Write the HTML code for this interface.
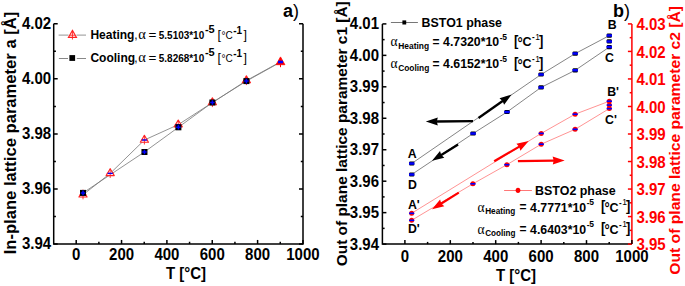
<!DOCTYPE html>
<html><head><meta charset="utf-8"><style>
html,body{margin:0;padding:0;background:#fff;}
svg{display:block;font-family:"Liberation Sans", sans-serif;}
</style></head><body>
<svg width="685" height="286" viewBox="0 0 685 286">
<rect x="0" y="0" width="685" height="286" fill="#fff"/>
<path d="M53.7 23.85 V243.95 H303.0 V23.85" fill="none" stroke="#000" stroke-width="1.5"/>
<path d="M53.7 243.95 h4 M303.0 243.95 h-4" stroke="#000" stroke-width="1.5"/>
<path d="M53.7 216.44 h2.2 M303.0 216.44 h-2.2" stroke="#000" stroke-width="1.5"/>
<path d="M53.7 188.92 h4 M303.0 188.92 h-4" stroke="#000" stroke-width="1.5"/>
<path d="M53.7 161.41 h2.2 M303.0 161.41 h-2.2" stroke="#000" stroke-width="1.5"/>
<path d="M53.7 133.90 h4 M303.0 133.90 h-4" stroke="#000" stroke-width="1.5"/>
<path d="M53.7 106.39 h2.2 M303.0 106.39 h-2.2" stroke="#000" stroke-width="1.5"/>
<path d="M53.7 78.87 h4 M303.0 78.87 h-4" stroke="#000" stroke-width="1.5"/>
<path d="M53.7 51.36 h2.2 M303.0 51.36 h-2.2" stroke="#000" stroke-width="1.5"/>
<path d="M53.7 23.85 h4 M303.0 23.85 h-4" stroke="#000" stroke-width="1.5"/>
<path d="M76.20 243.95 v-4" stroke="#000" stroke-width="1.5"/>
<path d="M98.88 243.95 v-2.2" stroke="#000" stroke-width="1.5"/>
<path d="M121.55 243.95 v-4" stroke="#000" stroke-width="1.5"/>
<path d="M144.23 243.95 v-2.2" stroke="#000" stroke-width="1.5"/>
<path d="M166.90 243.95 v-4" stroke="#000" stroke-width="1.5"/>
<path d="M189.57 243.95 v-2.2" stroke="#000" stroke-width="1.5"/>
<path d="M212.25 243.95 v-4" stroke="#000" stroke-width="1.5"/>
<path d="M234.93 243.95 v-2.2" stroke="#000" stroke-width="1.5"/>
<path d="M257.60 243.95 v-4" stroke="#000" stroke-width="1.5"/>
<path d="M280.28 243.95 v-2.2" stroke="#000" stroke-width="1.5"/>
<path d="M302.95 243.95 v-4" stroke="#000" stroke-width="1.5"/>
<path d="M382.4 23.9 V244.1 H631.9" fill="none" stroke="#000" stroke-width="1.5"/>
<path d="M631.9 23.9 V244.1" fill="none" stroke="#f00" stroke-width="1.5"/>
<path d="M382.4 244.10 h4" stroke="#000" stroke-width="1.5"/>
<path d="M382.4 228.37 h2.2" stroke="#000" stroke-width="1.5"/>
<path d="M382.4 212.64 h4" stroke="#000" stroke-width="1.5"/>
<path d="M382.4 196.91 h2.2" stroke="#000" stroke-width="1.5"/>
<path d="M382.4 181.19 h4" stroke="#000" stroke-width="1.5"/>
<path d="M382.4 165.46 h2.2" stroke="#000" stroke-width="1.5"/>
<path d="M382.4 149.73 h4" stroke="#000" stroke-width="1.5"/>
<path d="M382.4 134.00 h2.2" stroke="#000" stroke-width="1.5"/>
<path d="M382.4 118.27 h4" stroke="#000" stroke-width="1.5"/>
<path d="M382.4 102.54 h2.2" stroke="#000" stroke-width="1.5"/>
<path d="M382.4 86.81 h4" stroke="#000" stroke-width="1.5"/>
<path d="M382.4 71.09 h2.2" stroke="#000" stroke-width="1.5"/>
<path d="M382.4 55.36 h4" stroke="#000" stroke-width="1.5"/>
<path d="M382.4 39.63 h2.2" stroke="#000" stroke-width="1.5"/>
<path d="M382.4 23.90 h4" stroke="#000" stroke-width="1.5"/>
<path d="M631.9 244.10 h-4" stroke="#f00" stroke-width="1.5"/>
<path d="M631.9 230.34 h-2.2" stroke="#f00" stroke-width="1.5"/>
<path d="M631.9 216.58 h-4" stroke="#f00" stroke-width="1.5"/>
<path d="M631.9 202.81 h-2.2" stroke="#f00" stroke-width="1.5"/>
<path d="M631.9 189.05 h-4" stroke="#f00" stroke-width="1.5"/>
<path d="M631.9 175.29 h-2.2" stroke="#f00" stroke-width="1.5"/>
<path d="M631.9 161.53 h-4" stroke="#f00" stroke-width="1.5"/>
<path d="M631.9 147.76 h-2.2" stroke="#f00" stroke-width="1.5"/>
<path d="M631.9 134.00 h-4" stroke="#f00" stroke-width="1.5"/>
<path d="M631.9 120.24 h-2.2" stroke="#f00" stroke-width="1.5"/>
<path d="M631.9 106.48 h-4" stroke="#f00" stroke-width="1.5"/>
<path d="M631.9 92.71 h-2.2" stroke="#f00" stroke-width="1.5"/>
<path d="M631.9 78.95 h-4" stroke="#f00" stroke-width="1.5"/>
<path d="M631.9 65.19 h-2.2" stroke="#f00" stroke-width="1.5"/>
<path d="M631.9 51.42 h-4" stroke="#f00" stroke-width="1.5"/>
<path d="M631.9 37.66 h-2.2" stroke="#f00" stroke-width="1.5"/>
<path d="M631.9 23.90 h-4" stroke="#f00" stroke-width="1.5"/>
<path d="M404.90 244.1 v-4" stroke="#000" stroke-width="1.5"/>
<path d="M427.60 244.1 v-2.2" stroke="#000" stroke-width="1.5"/>
<path d="M450.30 244.1 v-4" stroke="#000" stroke-width="1.5"/>
<path d="M473.00 244.1 v-2.2" stroke="#000" stroke-width="1.5"/>
<path d="M495.70 244.1 v-4" stroke="#000" stroke-width="1.5"/>
<path d="M518.40 244.1 v-2.2" stroke="#000" stroke-width="1.5"/>
<path d="M541.10 244.1 v-4" stroke="#000" stroke-width="1.5"/>
<path d="M563.80 244.1 v-2.2" stroke="#000" stroke-width="1.5"/>
<path d="M586.50 244.1 v-4" stroke="#000" stroke-width="1.5"/>
<path d="M609.20 244.1 v-2.2" stroke="#000" stroke-width="1.5"/>
<path d="M631.90 244.1 v-4" stroke="#000" stroke-width="1.5"/>
<text transform="translate(51.20 248.95) scale(1 1.14)" font-size="15" font-weight="bold" text-anchor="end" fill="#000" >3.94</text>
<text transform="translate(51.20 193.92) scale(1 1.14)" font-size="15" font-weight="bold" text-anchor="end" fill="#000" >3.96</text>
<text transform="translate(51.20 138.90) scale(1 1.14)" font-size="15" font-weight="bold" text-anchor="end" fill="#000" >3.98</text>
<text transform="translate(51.20 83.87) scale(1 1.14)" font-size="15" font-weight="bold" text-anchor="end" fill="#000" >4.00</text>
<text transform="translate(51.20 28.85) scale(1 1.14)" font-size="15" font-weight="bold" text-anchor="end" fill="#000" >4.02</text>
<text transform="translate(76.20 260.10) scale(1 1.14)" font-size="15" font-weight="bold" text-anchor="middle" fill="#000" >0</text>
<text transform="translate(121.55 260.10) scale(1 1.14)" font-size="15" font-weight="bold" text-anchor="middle" fill="#000" >200</text>
<text transform="translate(166.90 260.10) scale(1 1.14)" font-size="15" font-weight="bold" text-anchor="middle" fill="#000" >400</text>
<text transform="translate(212.25 260.10) scale(1 1.14)" font-size="15" font-weight="bold" text-anchor="middle" fill="#000" >600</text>
<text transform="translate(257.60 260.10) scale(1 1.14)" font-size="15" font-weight="bold" text-anchor="middle" fill="#000" >800</text>
<text transform="translate(302.95 260.10) scale(1 1.14)" font-size="15" font-weight="bold" text-anchor="middle" fill="#000" >1000</text>
<text transform="translate(379.00 249.50) scale(1 1.14)" font-size="15" font-weight="bold" text-anchor="end" fill="#000" >3.94</text>
<text transform="translate(379.00 218.04) scale(1 1.14)" font-size="15" font-weight="bold" text-anchor="end" fill="#000" >3.95</text>
<text transform="translate(379.00 186.59) scale(1 1.14)" font-size="15" font-weight="bold" text-anchor="end" fill="#000" >3.96</text>
<text transform="translate(379.00 155.13) scale(1 1.14)" font-size="15" font-weight="bold" text-anchor="end" fill="#000" >3.97</text>
<text transform="translate(379.00 123.67) scale(1 1.14)" font-size="15" font-weight="bold" text-anchor="end" fill="#000" >3.98</text>
<text transform="translate(379.00 92.21) scale(1 1.14)" font-size="15" font-weight="bold" text-anchor="end" fill="#000" >3.99</text>
<text transform="translate(379.00 60.76) scale(1 1.14)" font-size="15" font-weight="bold" text-anchor="end" fill="#000" >4.00</text>
<text transform="translate(379.00 29.30) scale(1 1.14)" font-size="15" font-weight="bold" text-anchor="end" fill="#000" >4.01</text>
<text transform="translate(636.50 250.40) scale(1 1.14)" font-size="15" font-weight="bold" text-anchor="start" fill="#f00" >3.95</text>
<text transform="translate(636.50 222.88) scale(1 1.14)" font-size="15" font-weight="bold" text-anchor="start" fill="#f00" >3.96</text>
<text transform="translate(636.50 195.35) scale(1 1.14)" font-size="15" font-weight="bold" text-anchor="start" fill="#f00" >3.97</text>
<text transform="translate(636.50 167.83) scale(1 1.14)" font-size="15" font-weight="bold" text-anchor="start" fill="#f00" >3.98</text>
<text transform="translate(636.50 140.30) scale(1 1.14)" font-size="15" font-weight="bold" text-anchor="start" fill="#f00" >3.99</text>
<text transform="translate(636.50 112.78) scale(1 1.14)" font-size="15" font-weight="bold" text-anchor="start" fill="#f00" >4.00</text>
<text transform="translate(636.50 85.25) scale(1 1.14)" font-size="15" font-weight="bold" text-anchor="start" fill="#f00" >4.01</text>
<text transform="translate(636.50 57.72) scale(1 1.14)" font-size="15" font-weight="bold" text-anchor="start" fill="#f00" >4.02</text>
<text transform="translate(636.50 30.20) scale(1 1.14)" font-size="15" font-weight="bold" text-anchor="start" fill="#f00" >4.03</text>
<text transform="translate(404.90 261.90) scale(1 1.14)" font-size="15" font-weight="bold" text-anchor="middle" fill="#000" >0</text>
<text transform="translate(450.30 261.90) scale(1 1.14)" font-size="15" font-weight="bold" text-anchor="middle" fill="#000" >200</text>
<text transform="translate(495.70 261.90) scale(1 1.14)" font-size="15" font-weight="bold" text-anchor="middle" fill="#000" >400</text>
<text transform="translate(541.10 261.90) scale(1 1.14)" font-size="15" font-weight="bold" text-anchor="middle" fill="#000" >600</text>
<text transform="translate(586.50 261.90) scale(1 1.14)" font-size="15" font-weight="bold" text-anchor="middle" fill="#000" >800</text>
<text transform="translate(631.90 261.90) scale(1 1.14)" font-size="15" font-weight="bold" text-anchor="middle" fill="#000" >1000</text>
<text transform="translate(186.00 279.10) scale(1 1.14)" font-size="15" font-weight="bold" text-anchor="middle" fill="#000" >T [°C]</text>
<text transform="translate(516.00 280.50) scale(1 1.14)" font-size="15" font-weight="bold" text-anchor="middle" fill="#000" >T [°C]</text>
<text transform="translate(15.6 254.3) rotate(-90)" font-size="16" font-weight="bold" textLength="242.6" lengthAdjust="spacingAndGlyphs">In-plane lattice parameter a [Å]</text>
<text transform="translate(347 266.3) rotate(-90)" font-size="15" font-weight="bold" textLength="265" lengthAdjust="spacingAndGlyphs">Out of plane lattice parameter c1 [Å]</text>
<text transform="translate(679.9 274.7) rotate(-90)" font-size="15" font-weight="bold" textLength="268.8" lengthAdjust="spacingAndGlyphs" fill="#f00">Out of plane lattice parameter c2 [Å]</text>
<text x="283" y="16.8" font-size="18"><tspan font-weight="bold">a</tspan>)</text>
<text x="613" y="17.4" font-size="18"><tspan font-weight="bold">b</tspan>)</text>
<path d="M83.0 194.8 L110.2 173.4 L144.4 140.0 L178.2 124.7 L212.4 102.6 L246.4 80.6 L280.5 61.8" fill="none" stroke="#777" stroke-width="0.8"/>
<path d="M83.0 192.9 L144.4 152.0 L178.4 127.3 L212.4 102.5 L246.4 81.1 L280.5 62.2" fill="none" stroke="#777" stroke-width="0.8"/>
<path d="M83.00 190.10 L87.10 197.00 L78.90 197.00 Z" fill="#fff" stroke="#f22" stroke-width="1.1" stroke-linejoin="round"/>
<path d="M83.00 190.10 V199.30 M79.60 194.80 H86.40" stroke="#f22" stroke-width="0.9"/>
<path d="M80.50 194.80 H85.50" stroke="#00f" stroke-width="1.4"/>
<path d="M110.20 168.70 L114.30 175.60 L106.10 175.60 Z" fill="#fff" stroke="#f22" stroke-width="1.1" stroke-linejoin="round"/>
<path d="M110.20 168.70 V177.90 M106.80 173.40 H113.60" stroke="#f22" stroke-width="0.9"/>
<path d="M107.70 173.40 H112.70" stroke="#00f" stroke-width="1.4"/>
<path d="M144.40 135.30 L148.50 142.20 L140.30 142.20 Z" fill="#fff" stroke="#f22" stroke-width="1.1" stroke-linejoin="round"/>
<path d="M144.40 135.30 V144.50 M141.00 140.00 H147.80" stroke="#f22" stroke-width="0.9"/>
<path d="M141.90 140.00 H146.90" stroke="#00f" stroke-width="1.4"/>
<path d="M178.25 120.00 L182.35 126.90 L174.15 126.90 Z" fill="#fff" stroke="#f22" stroke-width="1.1" stroke-linejoin="round"/>
<path d="M178.25 120.00 V129.20 M174.85 124.70 H181.65" stroke="#f22" stroke-width="0.9"/>
<path d="M175.75 124.70 H180.75" stroke="#00f" stroke-width="1.4"/>
<path d="M212.40 97.90 L216.50 104.80 L208.30 104.80 Z" fill="#fff" stroke="#f22" stroke-width="1.1" stroke-linejoin="round"/>
<path d="M212.40 97.90 V107.10 M209.00 102.60 H215.80" stroke="#f22" stroke-width="0.9"/>
<path d="M209.90 102.60 H214.90" stroke="#00f" stroke-width="1.4"/>
<path d="M246.40 75.90 L250.50 82.80 L242.30 82.80 Z" fill="#fff" stroke="#f22" stroke-width="1.1" stroke-linejoin="round"/>
<path d="M246.40 75.90 V85.10 M243.00 80.60 H249.80" stroke="#f22" stroke-width="0.9"/>
<path d="M243.90 80.60 H248.90" stroke="#00f" stroke-width="1.4"/>
<rect x="80.00" y="189.90" width="6.00" height="6.00" fill="#000"/>
<path d="M80.80 192.90 H85.20 M83.00 190.60 V195.20" stroke="#00f" stroke-width="1.5"/>
<rect x="141.45" y="149.00" width="6.00" height="6.00" fill="#000"/>
<path d="M142.25 152.00 H146.65 M144.45 149.70 V154.30" stroke="#00f" stroke-width="1.5"/>
<rect x="175.40" y="124.30" width="6.00" height="6.00" fill="#000"/>
<path d="M176.20 127.30 H180.60 M178.40 125.00 V129.60" stroke="#00f" stroke-width="1.5"/>
<rect x="209.40" y="99.50" width="6.00" height="6.00" fill="#000"/>
<path d="M210.20 102.50 H214.60 M212.40 100.20 V104.80" stroke="#00f" stroke-width="1.5"/>
<rect x="243.40" y="78.10" width="6.00" height="6.00" fill="#000"/>
<path d="M244.20 81.10 H248.60 M246.40 78.80 V83.40" stroke="#00f" stroke-width="1.5"/>
<path d="M280.50 56.90 L284.90 64.70 L276.10 64.70 Z" fill="#f00" stroke="#f00" stroke-width="0.8" stroke-linejoin="round"/>
<path d="M280.50 62.00 V67.20" stroke="#f00" stroke-width="1"/>
<rect x="278.00" y="60.70" width="5" height="2.6" fill="#00f"/>
<path d="M58.6 35.1 H68.5 M76.5 35.1 H86" stroke="#aaa" stroke-width="1.4"/>
<path d="M58.9 58.5 H68 M76.8 58.5 H86" stroke="#888" stroke-width="1"/>
<path d="M72.45 30.4 L76.5 37.4 L68.4 37.4 Z" fill="#fff" stroke="#f22" stroke-width="1.1"/>
<path d="M72.45 30.4 V39.5 M70 35.2 H75" stroke="#f22" stroke-width="0.9"/>
<rect x="69.4" y="55.1" width="5.7" height="5.8" fill="#000"/>
<text x="90.4" y="38.8" font-size="12" font-weight="bold">Heating</text>
<text x="134.3" y="38.8" font-size="12">,</text>
<text x="138.3" y="39.1" font-size="14.5" font-family="Liberation Serif">α</text>
<text x="148.4" y="39.1" font-size="13.5">=</text>
<text x="158.8" y="39.3" font-size="10.3" font-weight="bold" textLength="45.4" lengthAdjust="spacingAndGlyphs">5.5103*10</text>
<text x="204.9" y="33.0" font-size="11" font-weight="bold">-5</text>
<text x="217.6" y="38.8" font-size="12.5">[</text>
<text x="221.6" y="38.8" font-size="10">°</text>
<text x="225.6" y="38.8" font-size="10">C</text>
<text x="233.2" y="33.9" font-size="10" font-weight="bold">-1</text>
<text x="243.5" y="38.8" font-size="12.5">]</text>
<text x="90.4" y="61.9" font-size="12" font-weight="bold">Cooling</text>
<text x="134.3" y="61.9" font-size="12">,</text>
<text x="138.3" y="62.2" font-size="14.5" font-family="Liberation Serif">α</text>
<text x="148.4" y="62.2" font-size="13.5">=</text>
<text x="158.8" y="62.4" font-size="10.3" font-weight="bold" textLength="45.4" lengthAdjust="spacingAndGlyphs">5.8268*10</text>
<text x="204.9" y="56.1" font-size="11" font-weight="bold">-5</text>
<text x="217.6" y="61.9" font-size="12.5">[</text>
<text x="221.6" y="61.9" font-size="10">°</text>
<text x="225.6" y="61.9" font-size="10">C</text>
<text x="233.2" y="57.0" font-size="10" font-weight="bold">-1</text>
<text x="243.5" y="61.9" font-size="12.5">]</text>
<path d="M411.7 163.5 L541.1 74.5 L575.2 53.6 L609.3 35.6" fill="none" stroke="#666" stroke-width="0.8"/>
<path d="M411.7 174.5 L473.1 133.5 L507.0 112.0 L541.1 87.4 L575.2 70.3 L609.3 47.1" fill="none" stroke="#666" stroke-width="0.8"/>
<path d="M411.6 213.3 L541.2 133.4 L575.1 114.2 L609.3 101.2" fill="none" stroke="#f77" stroke-width="0.8"/>
<path d="M411.6 220.3 L472.9 183.8 L506.9 164.7 L541.2 144.2 L575.1 129.3 L609.3 108.6" fill="none" stroke="#f77" stroke-width="0.8"/>
<rect x="409.10" y="161.40" width="5.2" height="4.2" rx="1.0" fill="#000"/>
<rect x="409.00" y="162.25" width="5.4" height="2.5" rx="0.5" fill="#00f"/>
<rect x="538.50" y="72.40" width="5.2" height="4.2" rx="1.0" fill="#000"/>
<rect x="538.40" y="73.25" width="5.4" height="2.5" rx="0.5" fill="#00f"/>
<rect x="572.60" y="51.50" width="5.2" height="4.2" rx="1.0" fill="#000"/>
<rect x="572.50" y="52.35" width="5.4" height="2.5" rx="0.5" fill="#00f"/>
<rect x="606.70" y="33.50" width="5.2" height="4.2" rx="1.0" fill="#000"/>
<rect x="606.60" y="34.35" width="5.4" height="2.5" rx="0.5" fill="#00f"/>
<rect x="409.10" y="172.40" width="5.2" height="4.2" rx="1.0" fill="#000"/>
<rect x="409.00" y="173.25" width="5.4" height="2.5" rx="0.5" fill="#00f"/>
<rect x="470.50" y="131.40" width="5.2" height="4.2" rx="1.0" fill="#000"/>
<rect x="470.40" y="132.25" width="5.4" height="2.5" rx="0.5" fill="#00f"/>
<rect x="504.40" y="109.90" width="5.2" height="4.2" rx="1.0" fill="#000"/>
<rect x="504.30" y="110.75" width="5.4" height="2.5" rx="0.5" fill="#00f"/>
<rect x="538.50" y="85.30" width="5.2" height="4.2" rx="1.0" fill="#000"/>
<rect x="538.40" y="86.15" width="5.4" height="2.5" rx="0.5" fill="#00f"/>
<rect x="572.60" y="68.20" width="5.2" height="4.2" rx="1.0" fill="#000"/>
<rect x="572.50" y="69.05" width="5.4" height="2.5" rx="0.5" fill="#00f"/>
<rect x="606.70" y="45.00" width="5.2" height="4.2" rx="1.0" fill="#000"/>
<rect x="606.60" y="45.85" width="5.4" height="2.5" rx="0.5" fill="#00f"/>
<rect x="606.70" y="39.30" width="5.2" height="4.2" rx="1.0" fill="#000"/>
<rect x="606.60" y="40.15" width="5.4" height="2.5" rx="0.5" fill="#00f"/>
<circle cx="411.65" cy="213.30" r="2.5" fill="#f00"/>
<rect x="409.05" y="212.50" width="5.2" height="1.6" fill="#00f"/>
<circle cx="541.20" cy="133.40" r="2.5" fill="#f00"/>
<rect x="538.60" y="132.60" width="5.2" height="1.6" fill="#00f"/>
<circle cx="575.10" cy="114.20" r="2.5" fill="#f00"/>
<rect x="572.50" y="113.40" width="5.2" height="1.6" fill="#00f"/>
<circle cx="609.30" cy="101.20" r="2.5" fill="#f00"/>
<rect x="606.70" y="100.40" width="5.2" height="1.6" fill="#00f"/>
<circle cx="411.65" cy="220.30" r="2.5" fill="#f00"/>
<rect x="409.05" y="219.50" width="5.2" height="1.6" fill="#00f"/>
<circle cx="472.90" cy="183.80" r="2.5" fill="#f00"/>
<rect x="470.30" y="183.00" width="5.2" height="1.6" fill="#00f"/>
<circle cx="506.90" cy="164.70" r="2.5" fill="#f00"/>
<rect x="504.30" y="163.90" width="5.2" height="1.6" fill="#00f"/>
<circle cx="541.20" cy="144.20" r="2.5" fill="#f00"/>
<rect x="538.60" y="143.40" width="5.2" height="1.6" fill="#00f"/>
<circle cx="575.10" cy="129.30" r="2.5" fill="#f00"/>
<rect x="572.50" y="128.50" width="5.2" height="1.6" fill="#00f"/>
<circle cx="609.30" cy="108.60" r="2.5" fill="#f00"/>
<rect x="606.70" y="107.80" width="5.2" height="1.6" fill="#00f"/>
<circle cx="609.30" cy="105.10" r="2.5" fill="#f00"/>
<rect x="606.70" y="104.30" width="5.2" height="1.6" fill="#00f"/>
<text x="412.30" y="157.90" font-size="12.3" font-weight="bold" text-anchor="middle" fill="#000" >A</text>
<text x="412.40" y="189.30" font-size="12.3" font-weight="bold" text-anchor="middle" fill="#000" >D</text>
<text x="612.10" y="29.20" font-size="12.3" font-weight="bold" text-anchor="middle" fill="#000" >B</text>
<text x="609.50" y="61.80" font-size="12.3" font-weight="bold" text-anchor="middle" fill="#000" >C</text>
<text x="413.90" y="208.50" font-size="12.3" font-weight="bold" text-anchor="middle" fill="#000" >A'</text>
<text x="413.90" y="232.60" font-size="12.3" font-weight="bold" text-anchor="middle" fill="#000" >D'</text>
<text x="613.10" y="95.50" font-size="12.3" font-weight="bold" text-anchor="middle" fill="#000" >B'</text>
<text x="611.00" y="123.80" font-size="12.3" font-weight="bold" text-anchor="middle" fill="#000" >C'</text>
<path d="M390.9 22.5 H417.9" stroke="#777" stroke-width="1"/>
<rect x="402.4" y="20.4" width="3.8" height="4.1" fill="#000"/>
<text x="421.6" y="26.8" font-size="12.6" font-weight="bold" textLength="80.4" lengthAdjust="spacingAndGlyphs">BSTO1 phase</text>
<g transform="translate(0 46.4) scale(1 1.07)">
<text x="390.5" y="0" font-size="13.5" font-family="Liberation Serif">α</text>
<text x="398.2" y="2.15" font-size="8.6" font-weight="bold" textLength="30.9" lengthAdjust="spacingAndGlyphs">Heating</text>
<text x="432.5" y="-0.65" font-size="12" font-weight="bold">=</text>
<text x="443.1" y="0" font-size="12" font-weight="bold" textLength="56.1" lengthAdjust="spacingAndGlyphs">4.7320*10</text>
<text x="499.8" y="-5.33" font-size="8" font-weight="bold">-</text>
<text x="502.2" y="-6.36" font-size="8.5" font-weight="bold">5</text>
<text x="513.9" y="-0.75" font-size="13" font-weight="bold">[</text>
<text x="517.6" y="1.4" font-size="13" font-weight="bold">°</text>
<text x="522.6" y="0" font-size="12.5" font-weight="bold">C</text>
<text x="532.1" y="-5.70" font-size="8" font-weight="bold">-</text>
<text x="535.3" y="-5.98" font-size="8.5">1</text>
<text x="539.0" y="-0.75" font-size="13" font-weight="bold">]</text>
</g>
<g transform="translate(0 68.4) scale(1 1.07)">
<text x="390.5" y="0" font-size="13.5" font-family="Liberation Serif">α</text>
<text x="398.2" y="2.15" font-size="8.6" font-weight="bold" textLength="31.1" lengthAdjust="spacingAndGlyphs">Cooling</text>
<text x="432.5" y="-0.65" font-size="12" font-weight="bold">=</text>
<text x="443.1" y="0" font-size="12" font-weight="bold" textLength="56.1" lengthAdjust="spacingAndGlyphs">4.6152*10</text>
<text x="499.8" y="-5.33" font-size="8" font-weight="bold">-</text>
<text x="502.2" y="-6.36" font-size="8.5" font-weight="bold">5</text>
<text x="513.9" y="-0.75" font-size="13" font-weight="bold">[</text>
<text x="517.6" y="1.4" font-size="13" font-weight="bold">°</text>
<text x="522.6" y="0" font-size="12.5" font-weight="bold">C</text>
<text x="532.1" y="-5.70" font-size="8" font-weight="bold">-</text>
<text x="535.3" y="-5.98" font-size="8.5">1</text>
<text x="539.0" y="-0.75" font-size="13" font-weight="bold">]</text>
</g>
<path d="M504.1 190.5 H531.9" stroke="#f77" stroke-width="1"/>
<ellipse cx="518" cy="190.35" rx="2.35" ry="2.6" fill="#f00"/>
<text x="535.1" y="194.6" font-size="12.6" font-weight="bold" textLength="80.6" lengthAdjust="spacingAndGlyphs">BSTO2 phase</text>
<g transform="translate(87 211.85) scale(1 1.07)">
<text x="390.5" y="0" font-size="13.5" font-family="Liberation Serif">α</text>
<text x="398.2" y="2.15" font-size="8.6" font-weight="bold" textLength="30.0" lengthAdjust="spacingAndGlyphs">Heating</text>
<text x="432.5" y="-0.65" font-size="12" font-weight="bold">=</text>
<text x="443.1" y="0" font-size="12" font-weight="bold" textLength="56.1" lengthAdjust="spacingAndGlyphs">4.7771*10</text>
<text x="499.8" y="-5.33" font-size="8" font-weight="bold">-</text>
<text x="502.2" y="-6.36" font-size="8.5" font-weight="bold">5</text>
<text x="513.9" y="-0.75" font-size="13" font-weight="bold">[</text>
<text x="517.6" y="1.4" font-size="13" font-weight="bold">°</text>
<text x="522.6" y="0" font-size="12.5" font-weight="bold">C</text>
<text x="532.1" y="-5.70" font-size="8" font-weight="bold">-</text>
<text x="535.3" y="-5.98" font-size="8.5">1</text>
<text x="539.0" y="-0.75" font-size="13" font-weight="bold">]</text>
</g>
<g transform="translate(87 233.85) scale(1 1.07)">
<text x="390.5" y="0" font-size="13.5" font-family="Liberation Serif">α</text>
<text x="398.2" y="2.15" font-size="8.6" font-weight="bold" textLength="30.2" lengthAdjust="spacingAndGlyphs">Cooling</text>
<text x="432.5" y="-0.65" font-size="12" font-weight="bold">=</text>
<text x="443.1" y="0" font-size="12" font-weight="bold" textLength="56.1" lengthAdjust="spacingAndGlyphs">4.6403*10</text>
<text x="499.8" y="-5.33" font-size="8" font-weight="bold">-</text>
<text x="502.2" y="-6.36" font-size="8.5" font-weight="bold">5</text>
<text x="513.9" y="-0.75" font-size="13" font-weight="bold">[</text>
<text x="517.6" y="1.4" font-size="13" font-weight="bold">°</text>
<text x="522.6" y="0" font-size="12.5" font-weight="bold">C</text>
<text x="532.1" y="-5.70" font-size="8" font-weight="bold">-</text>
<text x="535.3" y="-5.98" font-size="8.5">1</text>
<text x="539.0" y="-0.75" font-size="13" font-weight="bold">]</text>
</g>
<path d="M473.0 121.2 L436.3 121.5" stroke="#000" stroke-width="2.3"/>
<path d="M425.8 121.6 L437.8 117.5 L436.8 121.5 L437.8 125.5 Z" fill="#000"/>
<path d="M478.5 118.0 L503.0 100.7" stroke="#000" stroke-width="2.3"/>
<path d="M511.6 94.6 L504.1 104.8 L502.6 101.0 L499.5 98.3 Z" fill="#000"/>
<path d="M458.1 144.5 L440.9 155.2" stroke="#000" stroke-width="2.3"/>
<path d="M432.0 160.8 L440.0 151.0 L441.3 155.0 L444.3 157.8 Z" fill="#000"/>
<path d="M494.2 161.3 L519.7 146.4" stroke="#f00" stroke-width="2.2"/>
<path d="M528.7 141.1 L520.4 150.7 L519.2 146.7 L516.4 143.7 Z" fill="#f00"/>
<path d="M517.9 161.1 L554.2 160.6" stroke="#f00" stroke-width="2.2"/>
<path d="M564.7 160.5 L552.8 164.6 L553.7 160.6 L552.6 156.6 Z" fill="#f00"/>
<path d="M458.8 192.6 L440.9 203.7" stroke="#f00" stroke-width="2.2"/>
<path d="M432.0 209.3 L440.1 199.5 L441.3 203.5 L444.3 206.3 Z" fill="#f00"/>
</svg>
</body></html>
